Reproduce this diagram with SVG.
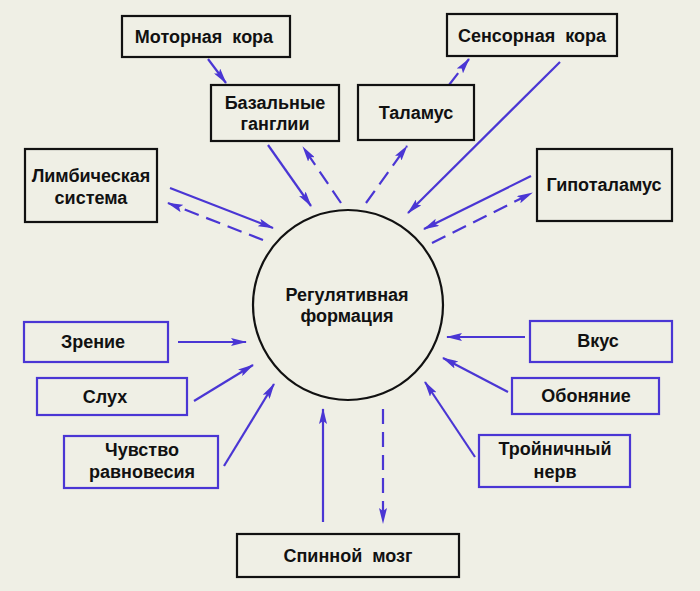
<svg xmlns="http://www.w3.org/2000/svg" width="700" height="591" viewBox="0 0 700 591">
<style>
.bg{fill:#efefe5}
.box{fill:#efefe5;stroke:#111;stroke-width:2.2}
.sbox{fill:#efefe5;stroke:#4a36d4;stroke-width:2.2}
text{font-family:"Liberation Sans",Arial,sans-serif;font-weight:bold;font-size:18px;fill:#111;text-anchor:middle}
.c{stroke:#4a36d4;stroke-width:2.2;fill:none;marker-end:url(#ah)}
.d{stroke-dasharray:15,8}
</style>
<defs>
<marker id="ah" viewBox="0 0 16 8" markerWidth="16" markerHeight="8" refX="15" refY="4" orient="auto" markerUnits="userSpaceOnUse">
<path d="M0,0 L16,4 L0,8 L3,4 z" fill="#4a36d4"/>
</marker>
</defs>
<rect class="bg" x="0" y="0" width="700" height="591"/>
<g id="connectors">
<line class="c" x1="208" y1="59" x2="226" y2="83"/>
<line class="c" x1="268" y1="145" x2="311" y2="206"/>
<line class="c d" x1="341" y1="203" x2="303" y2="147"/>
<line class="c d" x1="366" y1="203" x2="407" y2="146"/>
<line class="c d" x1="449" y1="85" x2="469" y2="59"/>
<line class="c" x1="560" y1="62" x2="408" y2="213"/>
<line class="c" x1="531" y1="176" x2="424" y2="229"/>
<line class="c d" x1="432" y1="243" x2="532" y2="193"/>
<line class="c" x1="170" y1="188" x2="273" y2="228"/>
<line class="c d" x1="263" y1="240" x2="168" y2="203"/>
<line class="c" x1="178" y1="342" x2="246" y2="342"/>
<line class="c" x1="194" y1="401" x2="253" y2="365"/>
<line class="c" x1="224" y1="466" x2="274" y2="384"/>
<line class="c" x1="525" y1="337" x2="447" y2="337"/>
<line class="c" x1="508" y1="392" x2="443" y2="358"/>
<line class="c" x1="475" y1="457" x2="425" y2="382"/>
<line class="c" x1="323" y1="522" x2="323" y2="409"/>
<line class="c d" x1="383" y1="409" x2="383" y2="523"/>
</g>
<g id="rf">
<circle cx="348" cy="305" r="95" fill="none" stroke="#111" stroke-width="2.2"/>
<text x="347" y="301">Регулятивная</text>
<text x="347" y="322">формация</text>
</g>
<g id="motor"><rect class="box" x="122" y="16" width="168" height="41"/><text x="204" y="43" word-spacing="5">Моторная кора</text></g>
<g id="basal"><rect class="box" x="211" y="85" width="128" height="56"/><text x="275" y="109">Базальные</text><text x="275" y="130">ганглии</text></g>
<g id="thalamus"><rect class="box" x="358" y="85" width="116" height="55"/><text x="416" y="119">Таламус</text></g>
<g id="sensory"><rect class="box" x="447" y="14" width="170" height="42"/><text x="532" y="42" word-spacing="5">Сенсорная кора</text></g>
<g id="hypothalamus"><rect class="box" x="537" y="149" width="135" height="72"/><text x="604" y="191">Гипоталамус</text></g>
<g id="limbic"><rect class="box" x="25" y="149" width="132" height="73"/><text x="91" y="182">Лимбическая</text><text x="91" y="204">система</text></g>
<g id="vision"><rect class="sbox" x="24" y="322" width="144" height="40"/><text x="93" y="348">Зрение</text></g>
<g id="hearing"><rect class="sbox" x="37" y="378" width="150" height="37"/><text x="105" y="403">Слух</text></g>
<g id="balance"><rect class="sbox" x="64" y="436" width="154" height="52"/><text x="142" y="456">Чувство</text><text x="142" y="478">равновесия</text></g>
<g id="taste"><rect class="sbox" x="530" y="321" width="142" height="41"/><text x="598" y="347">Вкус</text></g>
<g id="smell"><rect class="sbox" x="512" y="378" width="147" height="36"/><text x="586" y="402">Обоняние</text></g>
<g id="trigeminal"><rect class="sbox" x="479" y="435" width="151" height="52"/><text x="555" y="455">Тройничный</text><text x="555" y="478">нерв</text></g>
<g id="spinal"><rect class="box" x="237" y="534" width="222" height="43"/><text x="348" y="562" word-spacing="5">Спинной мозг</text></g>
</svg>
